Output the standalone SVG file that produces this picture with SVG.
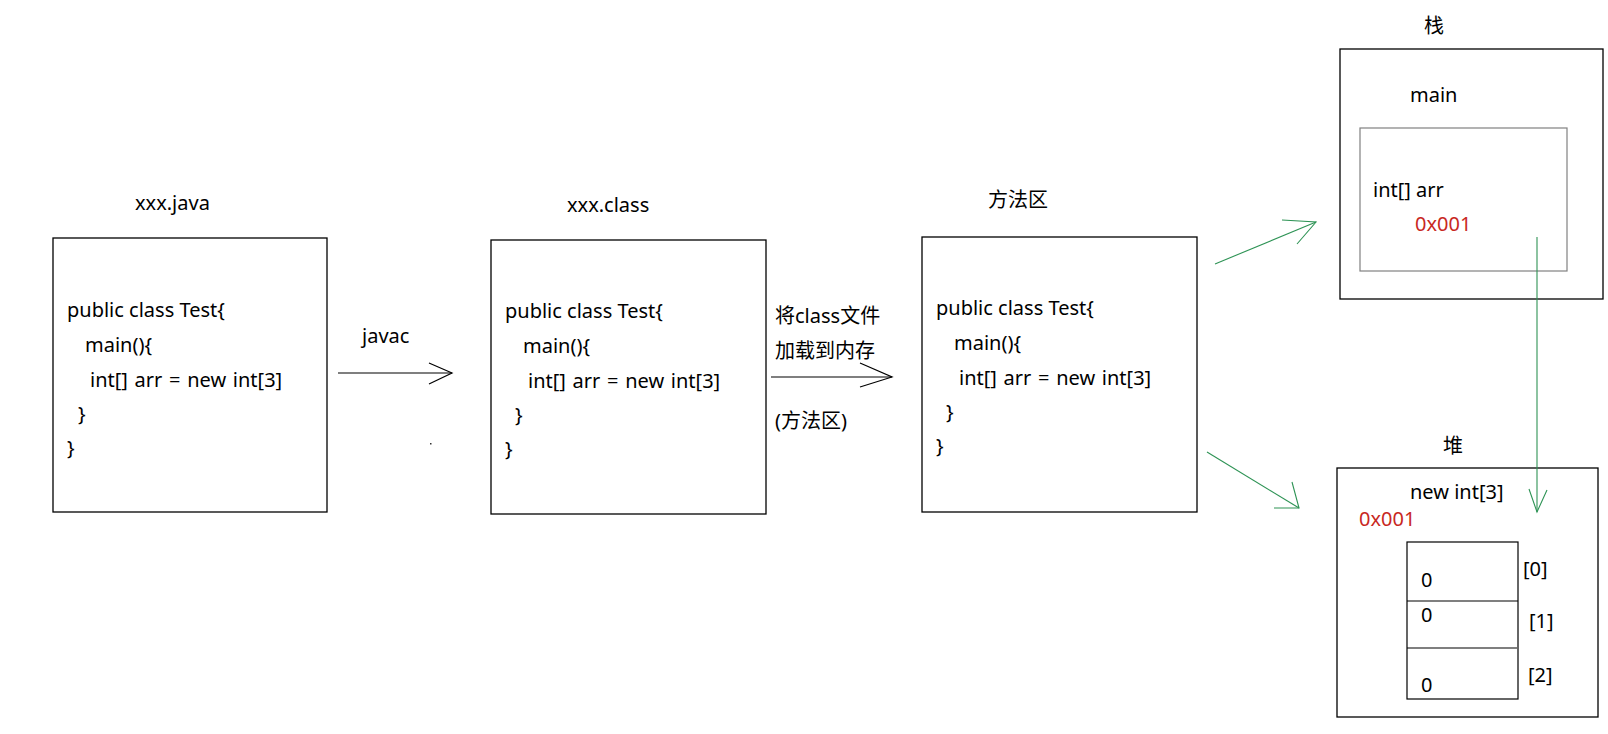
<svg xmlns="http://www.w3.org/2000/svg" width="1608" height="734" viewBox="0 0 1608 734">
<style>
text{font-family:"Noto Sans","Noto Sans CJK SC",sans-serif;font-size:20px;fill:#000}
.ws{word-spacing:1.5px}
.red{fill:#C8281E}
.box{fill:none;stroke:#000;stroke-width:1.3}
.inner{fill:none;stroke:#808080;stroke-width:1.2}
.blk{fill:none;stroke:#000;stroke-width:1.2}
.grn{fill:none;stroke:#2E9355;stroke-width:1.1}
</style>
<rect width="1608" height="734" fill="#fff"/>
<g id="java-file">
<text x="135" y="210">xxx.java</text>
<rect class="box" x="53" y="238" width="274" height="274"/>
<text x="67" y="317">public class Test{</text>
<text x="85" y="352">main(){</text>
<text class="ws" x="90" y="387">int[] arr = new int[3]</text>
<text x="78" y="421">}</text>
<text x="67" y="455">}</text>
</g>
<g id="class-file">
<text x="567" y="212">xxx.class</text>
<rect class="box" x="491" y="240" width="275" height="274"/>
<text x="505" y="318">public class Test{</text>
<text x="523" y="353">main(){</text>
<text class="ws" x="528" y="388">int[] arr = new int[3]</text>
<text x="515" y="422">}</text>
<text x="505" y="456">}</text>
</g>
<g id="method-area">
<text x="988" y="207">方法区</text>
<rect class="box" x="922" y="237" width="275" height="275"/>
<text x="936" y="315">public class Test{</text>
<text x="954" y="350">main(){</text>
<text class="ws" x="959" y="385">int[] arr = new int[3]</text>
<text x="946" y="419">}</text>
<text x="936" y="453">}</text>
</g>
<g id="stack">
<text x="1424" y="33">栈</text>
<rect class="box" x="1340" y="49" width="263" height="250"/>
<text x="1410" y="102">main</text>
<rect class="inner" x="1360" y="128" width="207" height="143"/>
<text x="1373" y="197">int[] arr</text>
<text class="red" x="1415" y="231">0x001</text>
</g>
<g id="heap">
<text x="1443" y="453">堆</text>
<rect class="box" x="1337" y="468" width="261" height="249"/>
<text x="1410" y="499">new int[3]</text>
<text class="red" x="1359" y="526">0x001</text>
<rect class="blk" x="1407" y="542" width="111" height="157"/>
<line class="blk" x1="1407" y1="601" x2="1518" y2="601"/>
<line class="blk" x1="1407" y1="648" x2="1517" y2="648"/>
<text x="1421" y="587">0</text>
<text x="1421" y="622">0</text>
<text x="1421" y="692">0</text>
<text x="1523" y="576">[0]</text>
<text x="1529" y="628">[1]</text>
<text x="1528" y="682">[2]</text>
</g>
<g id="connectors">
<line class="blk" x1="338" y1="373" x2="452" y2="373"/>
<polyline class="blk" points="429,363 452,373 429,384"/>
<text x="362" y="343">javac</text>
<rect x="430" y="443" width="1.5" height="1.5" fill="#333"/>
<line class="blk" x1="771" y1="377" x2="892" y2="377"/>
<polyline class="blk" points="860,363 892,377 860,387"/>
<text x="775" y="323">将class文件</text>
<text x="775" y="358">加载到内存</text>
<text x="775" y="428">(方法区)</text>
<line class="grn" x1="1215" y1="264" x2="1316" y2="222"/>
<polyline class="grn" points="1282,220 1316,222 1297,244"/>
<line class="grn" x1="1207" y1="452" x2="1299" y2="508"/>
<polyline class="grn" points="1292,482 1299,508 1274,508"/>
<line class="grn" x1="1537" y1="237" x2="1537" y2="512"/>
<polyline class="grn" points="1529,489 1537,512 1547,490"/>
</g>
</svg>
